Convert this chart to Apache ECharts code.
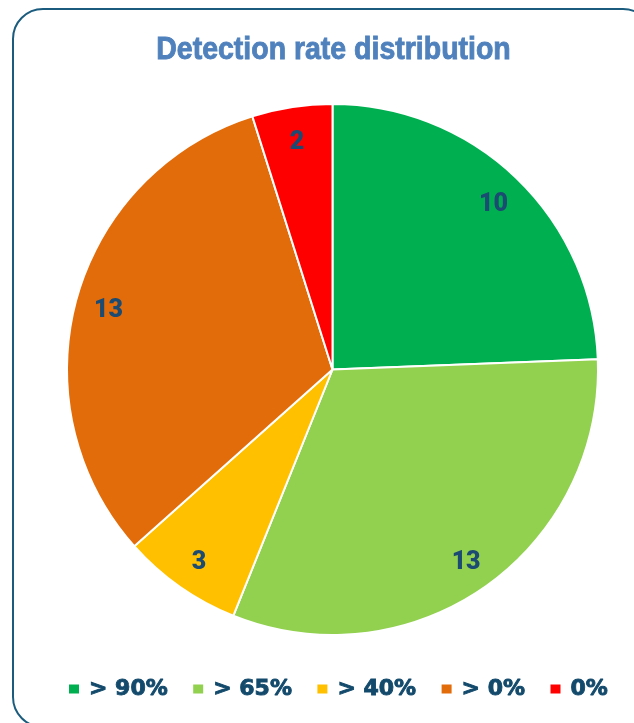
<!DOCTYPE html>
<html>
<head>
<meta charset="utf-8">
<script src="https://cdn.jsdelivr.net/npm/echarts@6/dist/echarts.min.js"></script>
<style>html,body{margin:0;padding:0;background:#fff;}#c{width:634px;height:723px;}</style>
</head>
<body>
<div id="c"></div>
<script>
var categories = ['> 90%', '> 65%', '> 40%', '> 0%', '0%'];
var values = [10, 13, 3, 13, 2];
var colors = ['#00B050', '#92D050', '#FFC000', '#E36C0A', '#FF0000'];
var titleText = 'Detection rate distribution';

var pieData = categories.map(function (n, i) {
  return { name: n, value: values[i], itemStyle: { color: colors[i] } };
});
var labelData = categories.map(function (n, i) {
  return { name: n, value: values[i] };
});

var chart = echarts.init(document.getElementById('c'), null, { renderer: 'canvas' });
chart.setOption({
  animation: false,
  backgroundColor: '#ffffff',
  graphic: [
    {
      type: 'rect',
      shape: { x: 13, y: 9, width: 640, height: 718, r: 30 },
      style: { fill: 'none', stroke: '#1B5C7E', lineWidth: 2 },
      z: 0
    },
    {
      type: 'text',
      x: 333.5, y: 50,
      scaleX: 0.89,
      style: {
        text: titleText,
        fill: '#4F81BD',
        stroke: '#4F81BD',
        lineWidth: 0.9,
        font: 'bold 32px "Liberation Sans", Arial, sans-serif',
        textAlign: 'center',
        textVerticalAlign: 'middle'
      },
      z: 10
    }
  ],
  legend: {
    data: categories,
    left: 67,
    top: 677,
    padding: 0,
    itemWidth: 12,
    itemHeight: 11,
    itemGap: 23,
    icon: 'rect',
    selectedMode: false,
    textStyle: {
      color: '#134A6C',
      fontFamily: 'DejaVu Sans',
      fontWeight: 'bold',
      fontSize: 22,
      lineHeight: 24,
      textBorderColor: '#134A6C',
      textBorderWidth: 0.9,
      padding: [0, 0, 0, 4]
    }
  },
  series: [
    {
      type: 'pie',
      center: [332.5, 369.5],
      radius: 265.5,
      startAngle: 90,
      clockwise: true,
      silent: true,
      label: { show: false },
      labelLine: { show: false },
      itemStyle: { borderColor: '#ffffff', borderWidth: 2 },
      data: pieData
    },
    {
      type: 'pie',
      center: [332.5, 369.5],
      radius: [193, 265.5],
      startAngle: 90,
      clockwise: true,
      silent: true,
      legendHoverLink: false,
      itemStyle: { color: 'rgba(0,0,0,0)', borderWidth: 0 },
      label: {
        show: true,
        position: 'inside',
        formatter: '{c}',
        color: '#1B4A72',
        fontFamily: 'Roboto',
        fontWeight: 900,
        fontSize: 25,
        offset: [0, 3]
      },
      labelLine: { show: false },
      data: labelData
    }
  ]
});
</script>
</body>
</html>
